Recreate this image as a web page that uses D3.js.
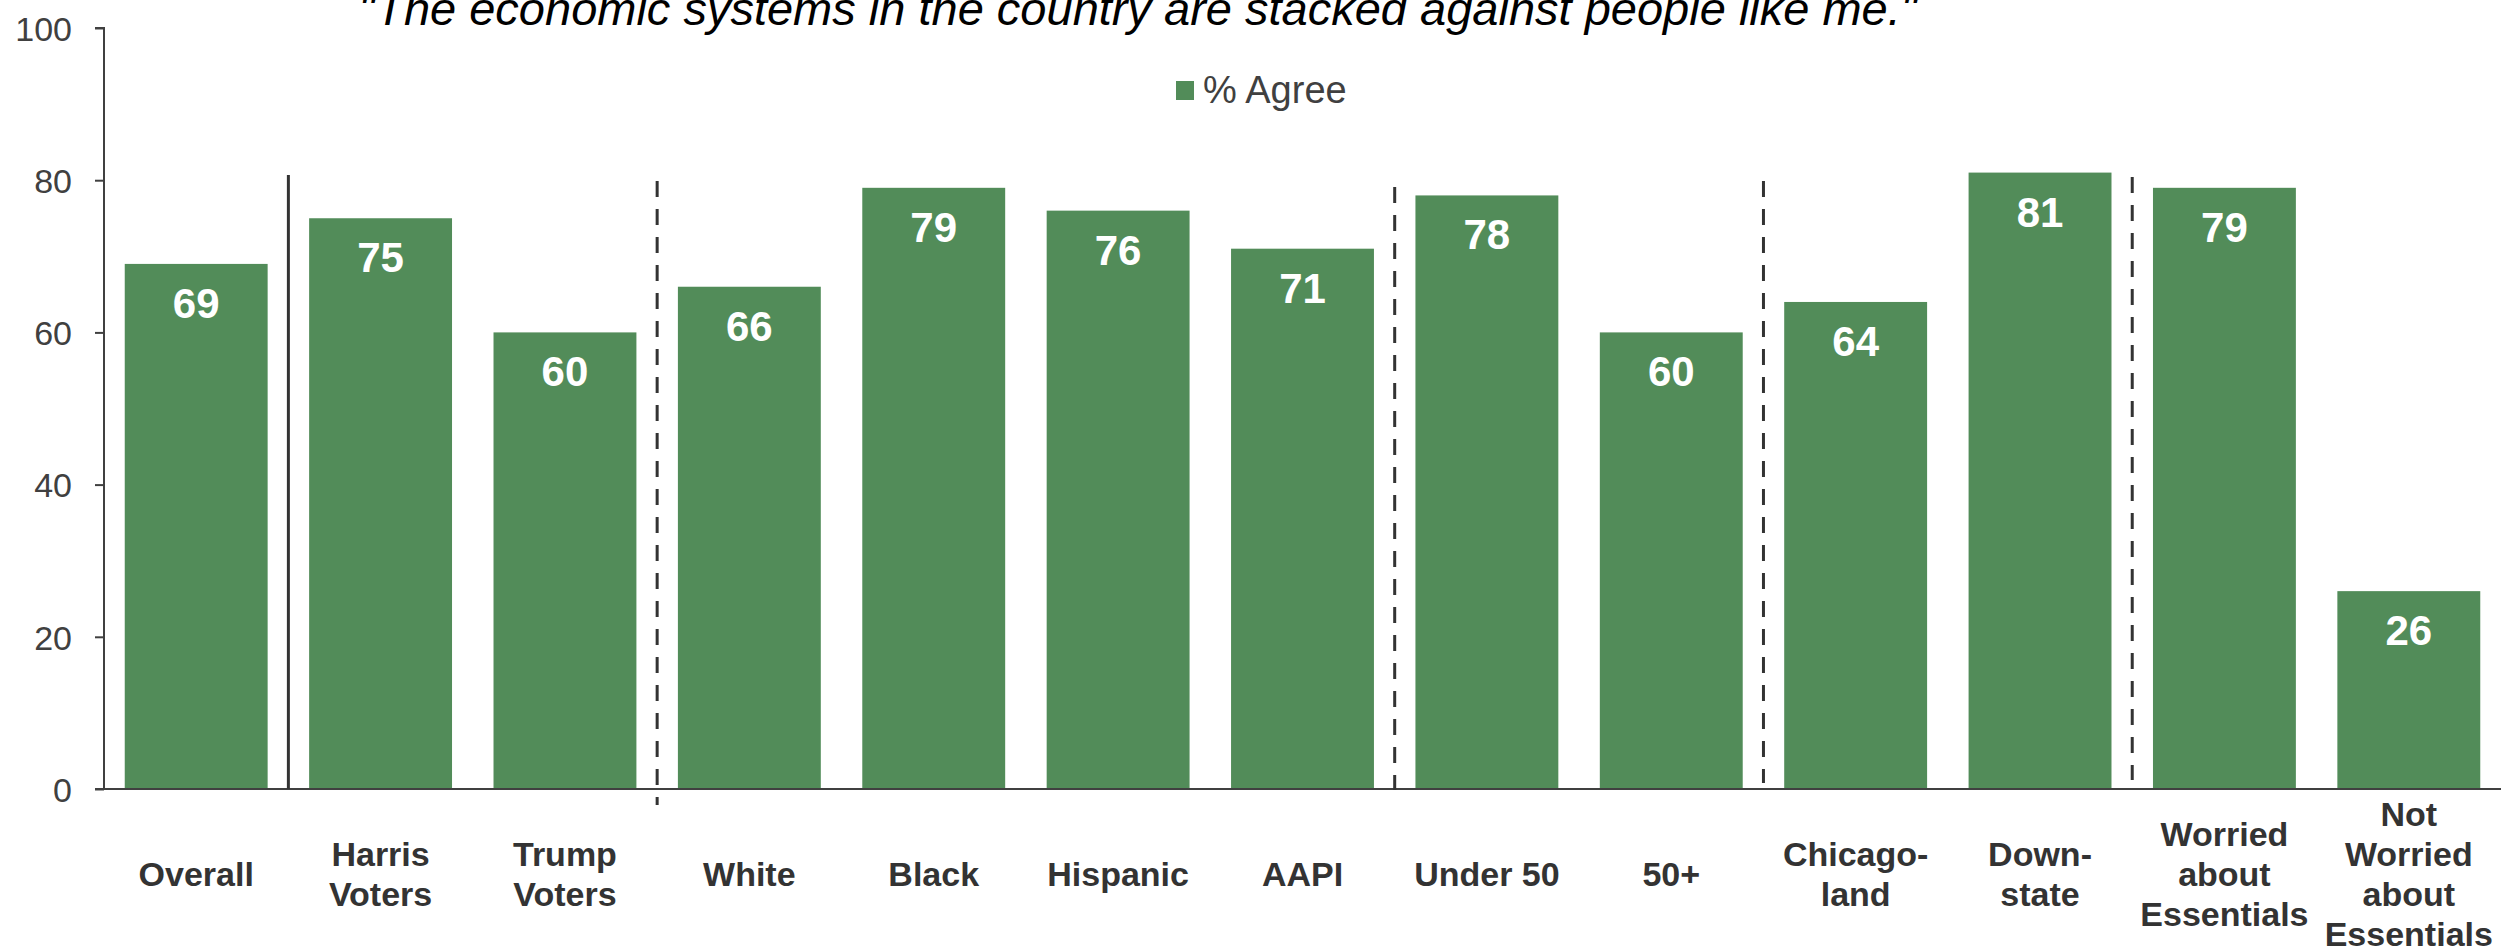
<!DOCTYPE html>
<html><head><meta charset="utf-8">
<script src="https://cdnjs.cloudflare.com/ajax/libs/d3/7.8.5/d3.min.js"></script>
<style>html,body{margin:0;padding:0;background:#fff;}svg{display:block;}</style>
</head><body><svg id="chart" width="2501" height="950"></svg>
<script>
const categories = [
  ["Overall"], ["Harris","Voters"], ["Trump","Voters"], ["White"], ["Black"], ["Hispanic"], ["AAPI"],
  ["Under 50"], ["50+"], ["Chicago-","land"], ["Down-","state"], ["Worried","about","Essentials"],
  ["Not","Worried","about","Essentials"]
];
const agreeValues = [69, 75, 60, 66, 79, 76, 71, 78, 60, 64, 81, 79, 26];
const yTicks = [0, 20, 40, 60, 80, 100];
const seriesName = "% Agree";
const titleText = "\"The economic systems in the country are stacked against people like me.\"";
// separators: drawn after category index, style
const separatorAfter = [0, 2, 6, 8, 10];
const separatorStyle = ["solid", "dashed", "dashed", "dashed", "dashed"];

const W = 2501, H = 950;
const green = "#528C59";
const axisColor = "#404040";
const FONT = "Liberation Sans, Arial, sans-serif";
const svg = d3.select("#chart");

const x = d3.scaleBand().domain(d3.range(categories.length)).range([104, 2501]).paddingInner(0.225).paddingOuter(0.1125);
const y = d3.scaleLinear().domain([0, 100]).range([789, 28]);

// title
svg.append("text").attr("x", 1138).attr("y", 25)
  .attr("text-anchor", "middle").attr("font-family", FONT)
  .attr("font-style", "italic").attr("font-size", 47).attr("fill", "#000")
  .text(titleText);

// legend
const lg = svg.append("g");
lg.append("rect").attr("x", 1176).attr("y", 81).attr("width", 18).attr("height", 19).attr("fill", green);
lg.append("text").attr("x", 1203).attr("y", 103).attr("font-family", FONT)
  .attr("font-size", 38).attr("fill", axisColor).text(seriesName);

// y axis
const yAxis = d3.axisLeft(y).tickValues(yTicks).tickSize(9).tickPadding(23);
const ga = svg.append("g").attr("transform", "translate(104,0)").call(yAxis);
ga.select(".domain").attr("stroke", axisColor).attr("stroke-width", 2).attr("d", `M-9,${y(100)}H0V${y(0)}`);
ga.selectAll(".tick line").attr("stroke", axisColor).attr("stroke-width", 2);
ga.selectAll(".tick text").attr("font-family", FONT).attr("font-size", 34).attr("fill", axisColor).attr("dy", "0.36em");

// bars
svg.append("g").selectAll("rect").data(agreeValues).join("rect")
  .attr("x", (d, i) => x(i)).attr("width", x.bandwidth())
  .attr("y", d => y(d)).attr("height", d => y(0) - y(d)).attr("fill", green);

// value labels
svg.append("g").selectAll("text").data(agreeValues).join("text")
  .attr("x", (d, i) => x(i) + x.bandwidth() / 2).attr("y", d => y(d) + 54)
  .attr("text-anchor", "middle").attr("font-family", FONT)
  .attr("font-weight", "bold").attr("font-size", 42).attr("fill", "#fff").text(d => d);

// baseline
svg.append("line").attr("x1", 95).attr("x2", 2501).attr("y1", y(0)).attr("y2", y(0))
  .attr("stroke", axisColor).attr("stroke-width", 2);

// separators
const sepTop = [175, 181, 187, 181, 177];
const sepBottom = [789, 805, 790, 783, 780];
separatorAfter.forEach((idx, k) => {
  const xm = (x(idx) + x.bandwidth() + x(idx + 1)) / 2;
  svg.append("line").attr("x1", xm).attr("x2", xm).attr("y1", sepTop[k]).attr("y2", sepBottom[k])
    .attr("stroke", "#333").attr("stroke-width", 3)
    .attr("stroke-dasharray", separatorStyle[k] === "dashed" ? "16,12" : null);
});

// category labels
const lineH = 40;
const cg = svg.append("g");
categories.forEach((lines, i) => {
  const t = cg.append("text").attr("text-anchor", "middle")
    .attr("font-family", FONT).attr("font-weight", "bold")
    .attr("font-size", 34).attr("fill", "#333");
  const cx = x(i) + x.bandwidth() / 2;
  const startY = 874 - (lines.length - 1) * lineH / 2 + 12;
  lines.forEach((ln, j) => {
    t.append("tspan").attr("x", cx).attr("y", startY + j * lineH).text(ln);
  });
});
</script></body></html>
